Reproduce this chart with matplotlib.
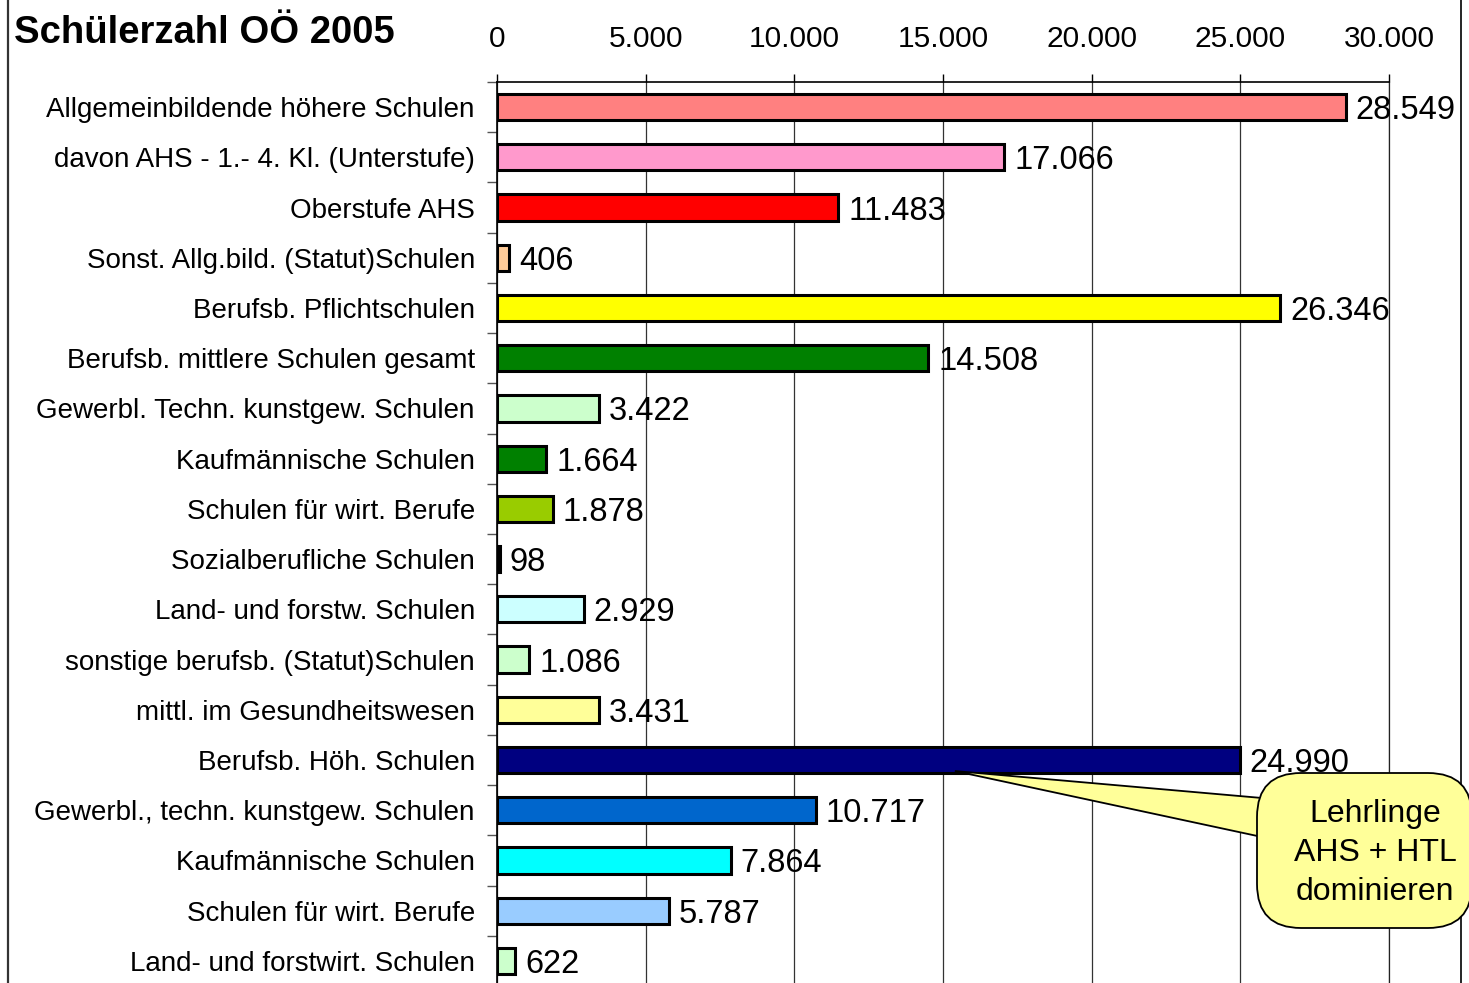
import numpy as np
import matplotlib
matplotlib.use("Agg")
import matplotlib.pyplot as plt
from matplotlib.patches import FancyBboxPatch, Polygon
from matplotlib.lines import Line2D

plt.rcParams['font.family'] = ['Liberation Sans', 'DejaVu Sans']

categories = [
    "Allgemeinbildende höhere Schulen",
    "davon AHS - 1.- 4. Kl. (Unterstufe)",
    "Oberstufe AHS",
    "Sonst. Allg.bild. (Statut)Schulen",
    "Berufsb. Pflichtschulen",
    "Berufsb. mittlere Schulen gesamt",
    "Gewerbl. Techn. kunstgew. Schulen",
    "Kaufmännische Schulen",
    "Schulen für wirt. Berufe",
    "Sozialberufliche Schulen",
    "Land- und forstw. Schulen",
    "sonstige berufsb. (Statut)Schulen",
    "mittl. im Gesundheitswesen",
    "Berufsb. Höh. Schulen",
    "Gewerbl., techn. kunstgew. Schulen",
    "Kaufmännische Schulen",
    "Schulen für wirt. Berufe",
    "Land- und forstwirt. Schulen",
]
values = [28549, 17066, 11483, 406, 26346, 14508, 3422, 1664, 1878, 98,
          2929, 1086, 3431, 24990, 10717, 7864, 5787, 622]
colors = ["#FF8080", "#FF99CC", "#FF0000", "#FFCC99", "#FFFF00", "#008000",
          "#CCFFCC", "#008000", "#99CC00", "#000000", "#CCFFFF", "#CCFFCC",
          "#FFFF99", "#000080", "#0066CC", "#00FFFF", "#99CCFF", "#CCFFCC"]
xticks = [0, 5000, 10000, 15000, 20000, 25000, 30000]

W, H = 1469, 983
fig = plt.figure(figsize=(W / 100, H / 100), dpi=100)
ax = fig.add_axes([497 / W, 1 - 986 / H, 892 / W, 904 / H])

y = np.arange(len(values))
ax.barh(y, values, height=0.52, color=colors, edgecolor="black", linewidth=2.2, zorder=3)

def fmt(v):
    return f"{v:,}".replace(",", ".")

for yi, v in zip(y, values):
    ax.annotate(fmt(v), (v, yi), xytext=(7, -2.5), textcoords="offset points",
                va="center", ha="left", fontsize=23.5, zorder=4)

ax.set_xlim(0, 30000)
ax.set_ylim(len(values) - 0.5, -0.5)
ax.xaxis.tick_top()
ax.set_xticks(xticks)
ax.set_xticklabels([fmt(t) for t in xticks], fontsize=21.5)
ax.tick_params(axis="x", direction="out", length=6, width=1, pad=15, colors="black")

ax.set_yticks(y)
ax.set_yticklabels(categories, fontsize=20)
ax.tick_params(axis="y", which="major", length=0, pad=16)
ax.set_yticks(np.arange(-0.5, len(values), 1), minor=True)
ax.tick_params(axis="y", which="minor", length=7, width=1, color="#555555")

ax.xaxis.grid(True, color="#333333", linewidth=0.9)
ax.set_axisbelow(True)
ax.spines["bottom"].set_visible(False)
ax.spines["right"].set_color("#222222")
ax.spines["right"].set_linewidth(0.9)
ax.spines["top"].set_linewidth(1.2)
ax.spines["left"].set_linewidth(1.2)

fig.text(14 / W, 1 - 43 / H, "Schülerzahl OÖ 2005", fontsize=27.5, fontweight="bold",
         ha="left", va="baseline")

# frame lines of the slide
fig.add_artist(Line2D([7.5 / W, 7.5 / W], [0, 1], color="#333333", linewidth=1.6))
fig.add_artist(Line2D([1461 / W, 1461 / W], [0, 1], color="black", linewidth=1.2))

# callout
fig.canvas.draw()
tip = ax.transData.transform((15400, 13.22))
tip_fig = fig.transFigure.inverted().transform(tip)
wedge = Polygon([tip_fig, (1262 / W, 1 - 798 / H), (1262 / W, 1 - 837 / H)],
                closed=True, facecolor="#FFFF99", edgecolor="black", linewidth=1.3,
                transform=fig.transFigure, zorder=5)
fig.add_artist(wedge)
box = FancyBboxPatch((1257 / W, 1 - 928 / H), 215 / W, 155 / H,
                     boxstyle="round,pad=0,rounding_size=0.03",
                     facecolor="#FFFF99", edgecolor="black", linewidth=1.3,
                     transform=fig.transFigure, zorder=6, mutation_aspect=W / H)
fig.add_artist(box)
fig.text(1375 / W, 1 - 853 / H, "Lehrlinge\nAHS + HTL\ndominieren", fontsize=23,
         ha="center", va="center", linespacing=1.38, zorder=7)

fig.savefig("out.png", dpi=100)
